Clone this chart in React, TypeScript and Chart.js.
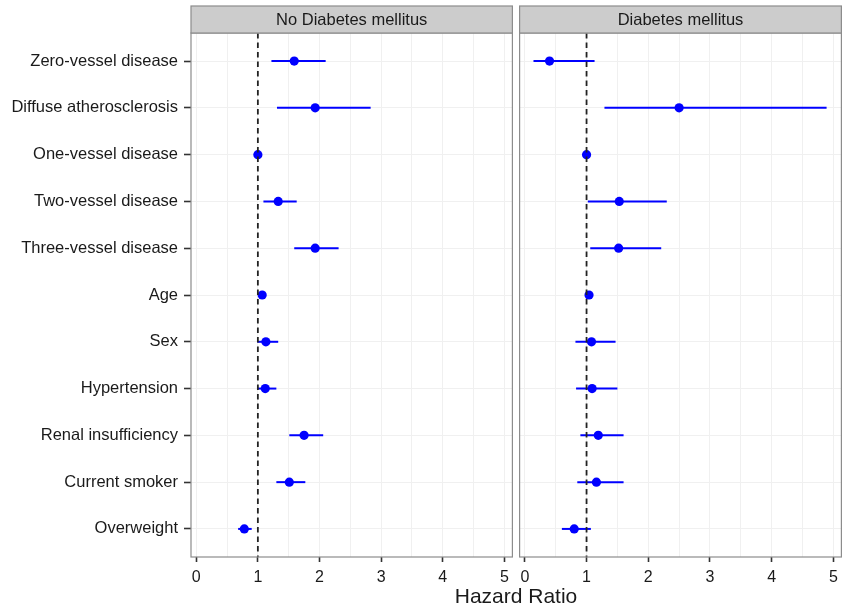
import React, { useEffect, useRef } from "react";
import { Chart, registerables } from "chart.js";

Chart.register(...registerables);

const rowLabels = [
  "Zero-vessel disease",
  "Diffuse atherosclerosis",
  "One-vessel disease",
  "Two-vessel disease",
  "Three-vessel disease",
  "Age",
  "Sex",
  "Hypertension",
  "Renal insufficiency",
  "Current smoker",
  "Overweight",
];

const panelTitles = ["No Diabetes mellitus", "Diabetes mellitus"];

const noDmHR = [1.59, 1.93, 1.0, 1.33, 1.93, 1.07, 1.13, 1.12, 1.75, 1.51, 0.78];
const noDmLow = [1.22, 1.31, 1.0, 1.09, 1.59, 1.05, 0.99, 0.99, 1.51, 1.3, 0.68];
const noDmHigh = [2.1, 2.83, 1.0, 1.63, 2.31, 1.09, 1.33, 1.3, 2.06, 1.77, 0.9];

const dmHR = [0.4, 2.5, 1.0, 1.53, 1.52, 1.04, 1.08, 1.09, 1.19, 1.16, 0.8];
const dmLow = [0.14, 1.29, 1.0, 1.02, 1.06, 1.02, 0.82, 0.83, 0.9, 0.85, 0.6];
const dmHigh = [1.13, 4.89, 1.0, 2.3, 2.21, 1.06, 1.47, 1.5, 1.6, 1.6, 1.07];

const xTicks = [0, 0.5, 1, 1.5, 2, 2.5, 3, 3.5, 4, 4.5, 5];
const refLine = 1;
const axisTitle = "Hazard Ratio";

const FONT = "'Liberation Sans', Arial, Helvetica, sans-serif";
const TEXT = "#1a1a1a";
const GRID = "#f0f0f0";
const BORDER = "#8c8c8c";
const BLUE = "#0000ff";

function makePlugin(title: string, lows: number[], highs: number[]) {
  return {
    id: "facet",
    beforeDatasetsDraw(chart: any) {
      const { ctx, scales } = chart;
      const x = scales.x;
      const y = scales.y;
      ctx.save();
      ctx.strokeStyle = BLUE;
      ctx.lineWidth = 2;
      lows.forEach((lo, i) => {
        const hi = highs[i];
        if (hi - lo <= 0) return;
        const py = y.getPixelForValue(i);
        ctx.beginPath();
        ctx.moveTo(x.getPixelForValue(lo), py);
        ctx.lineTo(x.getPixelForValue(hi), py);
        ctx.stroke();
      });
      ctx.restore();
    },
    afterDatasetsDraw(chart: any) {
      const { ctx, chartArea, scales } = chart;
      const px = scales.x.getPixelForValue(refLine);
      ctx.save();
      ctx.strokeStyle = "#222";
      ctx.lineWidth = 1.8;
      ctx.setLineDash([5.5, 4]);
      ctx.beginPath();
      ctx.moveTo(px, chartArea.top);
      ctx.lineTo(px, chartArea.bottom);
      ctx.stroke();
      ctx.restore();
    },
    afterDraw(chart: any) {
      const { ctx, chartArea } = chart;
      const w = chartArea.right - chartArea.left;
      ctx.save();
      ctx.strokeStyle = BORDER;
      ctx.lineWidth = 1.2;
      ctx.strokeRect(chartArea.left, chartArea.top, w, chartArea.bottom - chartArea.top);
      const top = 6;
      const h = chartArea.top - top;
      ctx.fillStyle = "#cccccc";
      ctx.fillRect(chartArea.left, top, w, h);
      ctx.strokeRect(chartArea.left, top, w, h);
      ctx.fillStyle = TEXT;
      ctx.font = `16.5px ${FONT}`;
      ctx.textAlign = "center";
      ctx.textBaseline = "middle";
      ctx.fillText(title, chartArea.left + w / 2, top + h / 2 + 1);
      ctx.restore();
    },
  };
}

function buildConfig(
  title: string,
  hr: number[],
  lows: number[],
  highs: number[],
  showLabels: boolean
): any {
  return {
    type: "scatter",
    data: {
      datasets: [
        {
          data: hr.map((v, i) => ({ x: v, y: i })),
          backgroundColor: BLUE,
          borderWidth: 0,
          pointRadius: 4.6,
          pointHoverRadius: 4.6,
        },
      ],
    },
    options: {
      animation: false,
      responsive: false,
      devicePixelRatio: 1,
      events: [],
      layout: {
        padding: { top: 33, right: 1, bottom: 0, left: 0 },
      },
      plugins: {
        legend: { display: false },
        tooltip: { enabled: false },
        title: { display: false },
      },
      scales: {
        x: {
          type: "linear",
          min: -0.085,
          max: 5.13,
          afterBuildTicks: (scale: any) => {
            scale.ticks = xTicks.map((v) => ({ value: v }));
          },
          afterFit: (scale: any) => {
            scale.height = 54;
            scale.paddingRight = 0;
            scale.paddingLeft = 0;
          },
          border: { display: false },
          grid: {
            color: GRID,
            lineWidth: 1,
            drawTicks: true,
            tickLength: 5,
            tickWidth: 1.6,
            tickColor: (c: any) =>
              c.tick && Number.isInteger(c.tick.value) ? "#333" : "rgba(0,0,0,0)",
          },
          ticks: {
            autoSkip: false,
            maxRotation: 0,
            padding: 6,
            color: TEXT,
            font: { family: FONT, size: 16 },
            callback: (v: any) => (Number.isInteger(v) ? String(v) : ""),
          },
        },
        y: {
          type: "linear",
          min: -0.6,
          max: 10.6,
          reverse: true,
          afterBuildTicks: (scale: any) => {
            scale.ticks = rowLabels.map((_, i) => ({ value: i }));
          },
          afterFit: (scale: any) => {
            scale.width = showLabels ? 191 : 4;
            scale.paddingTop = 0;
            scale.paddingBottom = 0;
          },
          border: { display: false },
          grid: {
            color: GRID,
            lineWidth: 1,
            drawTicks: showLabels,
            tickLength: 7,
            tickWidth: 1.6,
            tickColor: "#333",
          },
          ticks: {
            display: showLabels,
            autoSkip: false,
            padding: 6,
            color: TEXT,
            font: { family: FONT, size: 16.5 },
            callback: (v: any) => rowLabels[v] ?? "",
          },
        },
      },
    },
    plugins: [makePlugin(title, lows, highs)],
  };
}

export default function App() {
  const leftRef = useRef<HTMLCanvasElement | null>(null);
  const rightRef = useRef<HTMLCanvasElement | null>(null);

  useEffect(() => {
    const c1 = new Chart(
      leftRef.current as HTMLCanvasElement,
      buildConfig(panelTitles[0], noDmHR, noDmLow, noDmHigh, true)
    );
    const c2 = new Chart(
      rightRef.current as HTMLCanvasElement,
      buildConfig(panelTitles[1], dmHR, dmLow, dmHigh, false)
    );
    return () => {
      c1.destroy();
      c2.destroy();
    };
  }, []);

  return (
    <div
      style={{
        position: "absolute",
        left: 0,
        top: 0,
        width: 844,
        height: 611,
        background: "#fff",
        overflow: "hidden",
      }}
    >
      <canvas
        ref={leftRef}
        width={517}
        height={611}
        style={{ position: "absolute", left: 0, top: 0, width: 517, height: 611 }}
      />
      <canvas
        ref={rightRef}
        width={331}
        height={611}
        style={{ position: "absolute", left: 515, top: 0, width: 331, height: 611 }}
      />
      <div
        style={{
          position: "absolute",
          left: 0,
          width: 1032,
          top: 584,
          height: 24,
          lineHeight: "24px",
          textAlign: "center",
          fontFamily: FONT,
          fontSize: 21,
          color: TEXT,
        }}
      >
        {axisTitle}
      </div>
    </div>
  );
}
